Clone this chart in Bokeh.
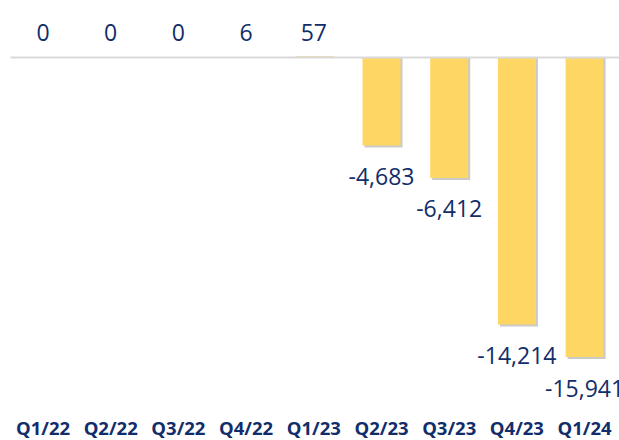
from bokeh.plotting import figure
from bokeh.models import Range1d, ColumnDataSource
from bokeh.core.properties import value
from bokeh.embed import file_html
from bokeh.resources import INLINE

categories = ["Q1/22", "Q2/22", "Q3/22", "Q4/22", "Q1/23", "Q2/23", "Q3/23", "Q4/23", "Q1/24"]
values = [0, 0, 0, 6, 57, -4683, -6412, -14214, -15941]
labels = ["0", "0", "0", "6", "57", "-4,683", "-6,412", "-14,214", "-15,941"]

W, H = 619, 440
step = 67.7
x0px = 42.5
zero_px = 57
upp = 4683 / 88.0  # data units per pixel

xs = list(range(len(categories)))
x_lo = -x0px / step
x_hi = (W - x0px) / step
y_hi = zero_px * upp
y_lo = -(H - zero_px) * upp

p = figure(width=W, height=H, output_backend="svg", toolbar_location=None,
           x_range=Range1d(x_lo, x_hi), y_range=Range1d(y_lo, y_hi),
           min_border=0, outline_line_color=None)
p.axis.visible = False
p.grid.visible = False
p.background_fill_color = "white"
p.border_fill_color = "white"

src = ColumnDataSource(dict(x=xs, v=values, lab=labels, cat=categories,
                            xs=[x + 2.0 / step for x in xs],
                            vs=[v - (2 * upp if v < 0 else 0) for v in values]))

bw = 38.0 / step
# shadow
p.vbar(x="xs", top=0, bottom="vs", width=bw, source=src,
       fill_color="#bdbdbd", line_color=None, fill_alpha=0.8)
p.vbar(x="x", top=0, bottom="v", width=bw, source=src,
       fill_color="#FDD663", line_color=None)

# zero line
p.segment(x0=[x_lo + 10.0 / step], x1=[x_hi], y0=[0], y1=[0],
          line_color="#d9d9d9", line_width=2)

navy = "#112d6a"
pos = ColumnDataSource(dict(x=[x for x, v in zip(xs, values) if v >= 0],
                            lab=[l for l, v in zip(labels, values) if v >= 0]))
neg = ColumnDataSource(dict(x=[x for x, v in zip(xs, values) if v < 0],
                            v=[v for v in values if v < 0],
                            lab=[l for l, v in zip(labels, values) if v < 0]))
p.text(x="x", y=0, text="lab", source=pos, y_offset=-25,
       text_align="center", text_baseline="middle", text_color=navy,
       text_font=value("Open Sans"), text_font_size="23px")
p.text(x="x", y="v", text="lab", source=neg, y_offset=31,
       text_align="center", text_baseline="middle", text_color=navy,
       text_font=value("Open Sans"), text_font_size="23px")

p.text(x="x", y=y_lo, text="cat", source=src, y_offset=-13,
       text_align="center", text_baseline="middle", text_color=navy,
       text_font=value("Open Sans"), text_font_size="18.5px", text_font_style="bold")

open("out.html", "w").write(file_html(p, INLINE))
